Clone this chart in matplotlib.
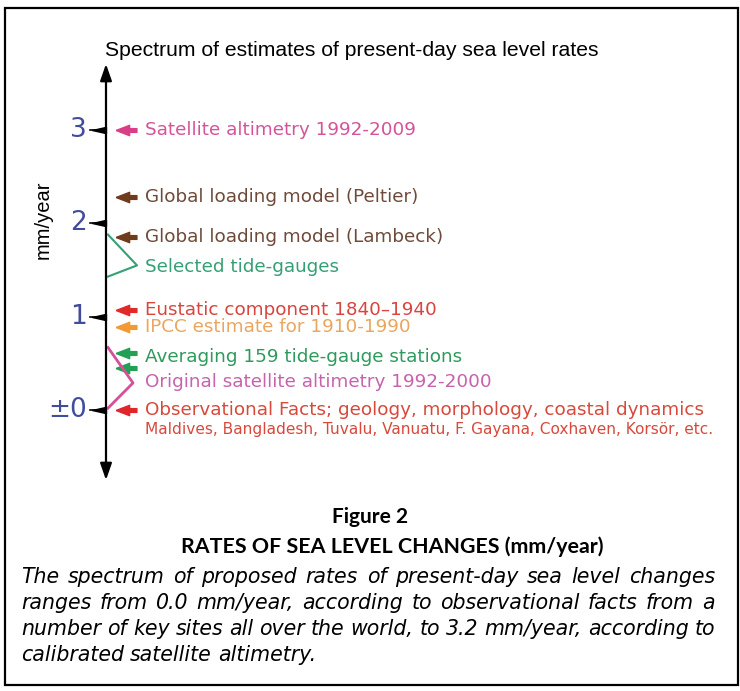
import matplotlib
matplotlib.use("Agg")
import matplotlib.pyplot as plt
from matplotlib.patches import Rectangle

# scale values (mm/year) and their labels
tick_values = [0, 1, 2, 3]
tick_labels = ["±0", "1", "2", "3"]

# coloured pointers on the scale
pointer_values = [3.0, 2.28, 1.85, 1.07, 0.89, 0.61, 0.45, 0.0]
pointer_colors = ["#d93f86", "#6e3c1c", "#6e3c1c", "#e02a2a",
                  "#f29a34", "#22a056", "#22a056", "#e0262a"]

# estimate labels
label_texts = [
    "Satellite altimetry 1992-2009",
    "Global loading model (Peltier)",
    "Global loading model (Lambeck)",
    "Selected tide-gauges",
    "Eustatic component 1840\u20131940",
    "IPCC estimate for 1910-1990",
    "Averaging 159 tide-gauge stations",
    "Original satellite altimetry 1992-2000",
    "Observational Facts; geology, morphology, coastal dynamics",
]
label_values = [3.0, 2.28, 1.85, 1.53, 1.07, 0.89, 0.57, 0.30, 0.0]
label_colors = ["#d4539a", "#6f4a3a", "#6f4a3a", "#35a073", "#d8453f",
                "#eaa65e", "#2e9a5e", "#c862ad", "#d8493c"]
sites_text = "Maldives, Bangladesh, Tuvalu, Vanuatu, F. Gayana, Coxhaven, Korsör, etc."
sites_value = -0.21

# brackets: (top, tip, bottom) in mm/year
green_bracket = [1.88, 1.55, 1.43]
pink_bracket = [0.67, 0.29, 0.02]

caption_lines = [
    "The spectrum of proposed rates of present-day sea level changes",
    "ranges from 0.0 mm/year, according to observational facts from a",
    "number of key sites all over the world, to 3.2 mm/year, according to",
    "calibrated satellite altimetry.",
]

W, H = 740, 691
ZERO_PX = 410.0      # pixel row of 0 mm/year (from top)
PX_UNIT = 93.3       # pixels per mm/year
AXIS_X = 106

fig = plt.figure(figsize=(W / 100, H / 100), dpi=100)
ax = fig.add_axes([0, 0, 1, 1])
ax.set_xlim(0, W)
ax.set_ylim(-(H - ZERO_PX) / PX_UNIT, ZERO_PX / PX_UNIT)
ax.axis("off")


def fy(px):
    # top-based pixel row -> figure fraction
    return 1 - px / H


# outer frame
fig.patches.append(Rectangle((5 / W, fy(685)), 733 / W, 677 / H, transform=fig.transFigure,
                             fill=False, edgecolor="black", linewidth=1.6))

fig.text(105 / W, fy(50), "Spectrum of estimates of present-day sea level rates",
         family="Liberation Sans", fontsize=15.2, va="center", ha="left")
fig.text(43 / W, fy(220), "mm/year", family="Liberation Sans", fontsize=14.5,
         rotation=90, va="center", ha="center")

# main double arrow
top_v = (ZERO_PX - 64) / PX_UNIT
bot_v = (ZERO_PX - 480) / PX_UNIT
ax.annotate("", xy=(AXIS_X, top_v), xytext=(AXIS_X, bot_v),
            arrowprops=dict(arrowstyle="<|-|>,head_length=1.0,head_width=0.35",
                            color="black", lw=1.6, shrinkA=0, shrinkB=0))

tick_marker = [(-1, 0), (1, 0.45), (1, -0.45), (-1, 0)]
ax.plot([AXIS_X - 7] * len(tick_values), tick_values, ls="none",
        marker=tick_marker, markersize=10, color="black")
for v in tick_values:
    ax.plot([AXIS_X - 16, AXIS_X - 8], [v, v], color="black", lw=1.2)
for v, lab in zip(tick_values, tick_labels):
    ax.text(AXIS_X - 19, v, lab, ha="right", va="center", fontsize=19,
            family="DejaVu Sans", color="#414c9c")

pointer_marker = [(-1, 0), (0.3, 0.5), (0.3, 0.18), (1, 0.18), (1, -0.18),
                  (0.3, -0.18), (0.3, -0.5), (-1, 0)]
for v, c in zip(pointer_values, pointer_colors):
    ax.plot(AXIS_X + 20, v, marker=pointer_marker, markersize=15, color=c, ls="none")

for txt, v, c in zip(label_texts, label_values, label_colors):
    ax.text(145, v, txt, ha="left", va="center", fontsize=13.2,
            family="DejaVu Sans", color=c)
ax.text(145, sites_value, sites_text, ha="left", va="center", fontsize=11.1,
        family="DejaVu Sans", color="#d8493c")

ax.plot([AXIS_X + 2, 137, AXIS_X + 2], green_bracket, color="#35a073", lw=1.5)
ax.plot([AXIS_X + 2, 133, AXIS_X + 2], pink_bracket, color="#d4509a", lw=2.0)

# heading and caption
fig.text(370 / W, fy(517), "Figure 2", family="Lato", weight="bold",
         fontsize=15, ha="center", va="center")
fig.text(392 / W, fy(547), "RATES OF SEA LEVEL CHANGES (mm/year)", family="Lato",
         weight="bold", fontsize=15.4, ha="center", va="center")

renderer = fig.canvas.get_renderer()
x_left, x_right = 21, 715
for i, line in enumerate(caption_lines):
    y = fy(577 + 26 * i)
    words = line.split(" ")
    items = [fig.text(0, y, w, family="DejaVu Sans", style="oblique",
                      fontsize=14.8, va="center", ha="left") for w in words]
    widths = [t.get_window_extent(renderer).width for t in items]
    if i < len(caption_lines) - 1:
        gap = (x_right - x_left - sum(widths)) / (len(words) - 1)
    else:
        gap = 6.0
    x = x_left
    for t, w in zip(items, widths):
        t.set_x(x / W)
        x += w + gap

fig.savefig("out.png", dpi=100)
